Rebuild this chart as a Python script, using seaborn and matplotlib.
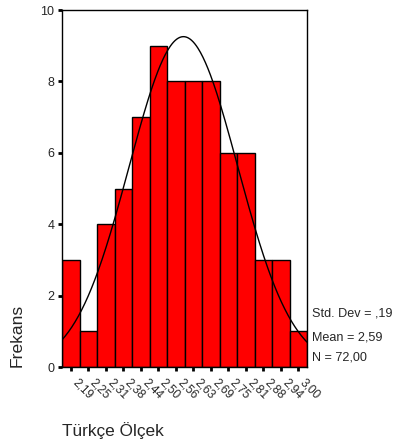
import numpy as np
import matplotlib
matplotlib.use("Agg")
import matplotlib.pyplot as plt
import matplotlib.transforms as mtransforms
import seaborn as sns

# Data
bin_centers = [2.1875, 2.25, 2.3125, 2.375, 2.4375, 2.5, 2.5625, 2.625,
               2.6875, 2.75, 2.8125, 2.875, 2.9375, 3.0]
counts = [3, 1, 4, 5, 7, 9, 8, 8, 8, 6, 6, 3, 3, 1]
tick_labels = ["2,19", "2,25", "2,31", "2,38", "2,44", "2,50", "2,56", "2,63",
               "2,69", "2,75", "2,81", "2,88", "2,94", "3,00"]
std_dev = 0.194
mean = 2.59
n_total = 72
stats_lines = ["Std. Dev = ,19", "Mean = 2,59", "N = 72,00"]

sns.set_style("white")
plt.rcParams['font.family'] = ['Liberation Sans', 'DejaVu Sans']

width = 0.0625
edges = [c - width / 2 for c in bin_centers] + [bin_centers[-1] + width / 2]

fig = plt.figure(figsize=(3.95, 4.46), dpi=100)
ax = fig.add_axes([62 / 395, 1 - 367 / 446, (307 - 62) / 395, (367 - 10) / 446])

sns.histplot(x=bin_centers, weights=counts, bins=edges, ax=ax,
             color="#ff0000", edgecolor="black", linewidth=1.0, alpha=1.0)

xs = np.linspace(edges[0], edges[-1], 300)
ys = n_total * width * np.exp(-0.5 * ((xs - mean) / std_dev) ** 2) / (std_dev * np.sqrt(2 * np.pi))
sns.lineplot(x=xs, y=ys, ax=ax, color="black", linewidth=1.0)

ax.set_xlim(edges[0], edges[-1])
ax.set_ylim(0, 10)
ax.set_yticks([0, 2, 4, 6, 8, 10])
ax.set_yticklabels(["0", "2", "4", "6", "8", "10"], fontsize=9)
ax.set_xticks(bin_centers)
ax.set_xticklabels(tick_labels, fontsize=8.6, rotation=-45, ha="left", va="center",
                   rotation_mode="anchor")
ax.tick_params(axis="both", direction="out", length=3, width=2, color="black",
               pad=2.5, left=True, bottom=True)
ax.tick_params(axis="x", pad=7)
offset = mtransforms.ScaledTranslation(2.5 / 72, 0, fig.dpi_scale_trans)
for lbl in ax.get_xticklabels():
    lbl.set_transform(lbl.get_transform() + offset)
for s in ax.spines.values():
    s.set_visible(True)
    s.set_color("black")
    s.set_linewidth(1.0)
ax.set_xlabel("")
ax.set_ylabel("")

fig.text(62 / 395, 1 - 431 / 446, "Türkçe Ölçek", fontsize=12.4, ha="left", va="center")
fig.text(17.5 / 395, 1 - 367 / 446, "Frekans", fontsize=12.6, rotation=90, ha="center", va="bottom")

ys_px = [314, 337, 358]
for t, yp in zip(stats_lines, ys_px):
    fig.text(312 / 395, 1 - yp / 446, t, fontsize=9.1, ha="left", va="center")

fig.savefig("out.png", dpi=100)
